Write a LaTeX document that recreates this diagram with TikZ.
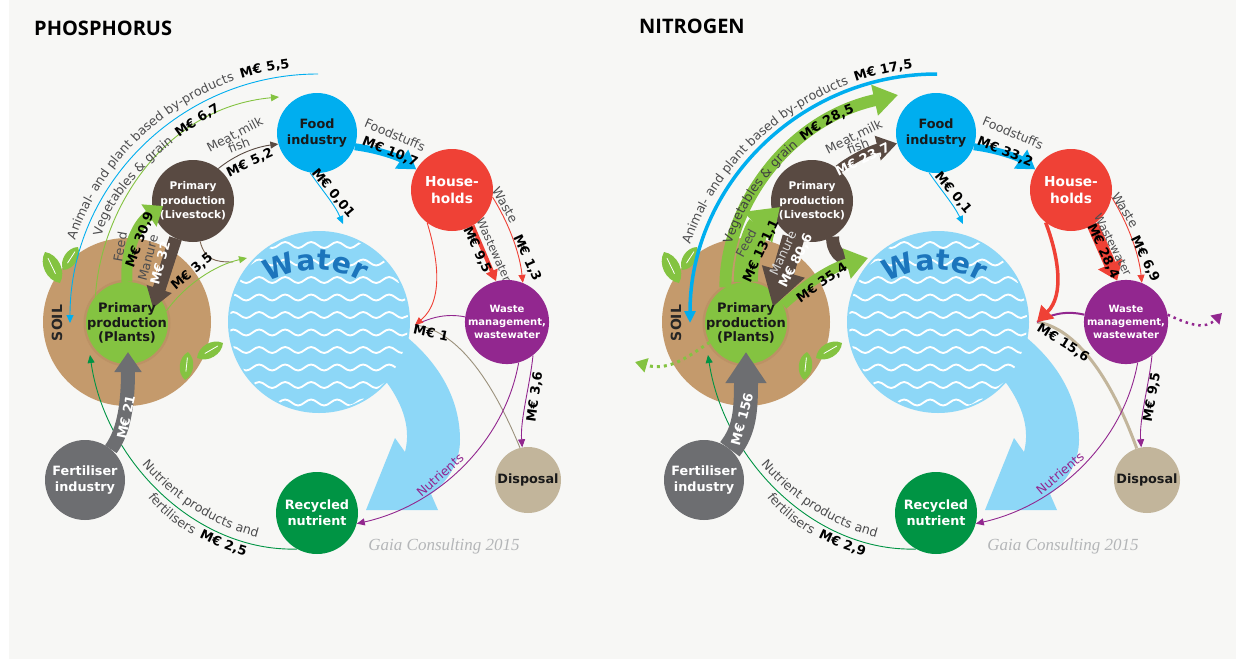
\documentclass[tikz,border=0pt]{standalone}
\usepackage{fontspec}
\setmainfont{DejaVu Sans}
\newfontfamily\titlefont{Open Sans}
\newfontfamily\gaiafont{Liberation Serif}
\usetikzlibrary{calc,arrows.meta,decorations.text,decorations.pathmorphing}
\definecolor{pagegrey}{HTML}{F7F7F5}
\definecolor{soilbrown}{HTML}{C49A6C}
\definecolor{soilshade}{HTML}{BC9265}
\definecolor{waterblue}{HTML}{8DD7F7}
\definecolor{waterword}{HTML}{1C75BC}
\definecolor{foodblue}{HTML}{00AEEF}
\definecolor{househred}{HTML}{EF4136}
\definecolor{wastepurple}{HTML}{92278F}
\definecolor{disposaltan}{HTML}{C2B59B}
\definecolor{recycledgreen}{HTML}{009444}
\definecolor{fertgrey}{HTML}{6D6E71}
\definecolor{livebrown}{HTML}{594A42}
\definecolor{plantgreen}{HTML}{84C341}
\definecolor{labelgrey}{HTML}{4D4D4F}
\definecolor{gaiagrey}{HTML}{B4B6B8}
\def\lblfont{\fontsize{12.6}{12.6}\selectfont\color{labelgrey}}
\def\darkfont{\fontsize{12.6}{12.6}\selectfont\color{black!75}}
\def\valfont{\fontsize{13}{13}\selectfont\bfseries\color{black}}
\def\curvelabel(#1)(#2)(#3)(#4)#5{\path[decorate,decoration={text along path,text align=center,text={#5}}] (#1) .. controls (#2) and (#3) .. (#4);}
\def\leaf(#1)(#2){\fill[plantgreen] (#1) to[bend left=55] (#2) to[bend left=55] (#1); \draw[white,line width=0.8] ($(#1)!.3!(#2)$) -- ($(#1)!.8!(#2)$);}
\tikzset{
	hub/.style={circle,inner sep=0pt,align=center,minimum size=#1},
	bighub/.style={font=\fontsize{12.8}{16}\selectfont\bfseries},
	midhub/.style={align=center,font=\fontsize{13}{14.5}\selectfont\bfseries},
	smallhub/.style={font=\fontsize{10}{12.6}\selectfont\bfseries},
	val/.style={font=\fontsize{13}{13}\selectfont\bfseries,inner sep=0pt},
	lbl/.style={font=\fontsize{12.5}{12.5}\selectfont,text=labelgrey,inner sep=0pt},
	wave/.style={white,line width=1.9,decorate,decoration={snake,segment length=26pt,amplitude=3pt}},
	thinflow/.style={line width=0.9,-{Triangle[length=8pt,width=7pt]}}
}
\begin{document}
\begin{tikzpicture}[x=1pt,y=-1pt]
	\useasboundingbox (0,0) rectangle (1236,659);
	\fill[white] (0,0) rectangle (1236,659);
	\fill[pagegrey] (9,0) rectangle (1236,659);

	\node (P-title) [anchor=west,inner sep=0pt,font=\titlefont\fontsize{20}{20}\selectfont\bfseries] at (34,28) {PHOSPHORUS};
	\node (N-title) [anchor=west,inner sep=0pt,font=\titlefont\fontsize{20}{20}\selectfont\bfseries] at (639,26) {NITROGEN};

	%%%%% shared by both panels %%%%%
	\foreach \p/\dx in {P/0,N/619}{
	\begin{scope}[shift={(\dx,0)}]
		\node (\p-soil) [hub=168,fill=soilbrown] at (127,322) {};
		\fill[soilshade] (127,323) circle (43.5);
		\node (\p-water) [hub=182,fill=waterblue] at (319,322) {};
		\fill[waterblue] (408,338) .. controls (440,365) and (460,400) .. (460,440) .. controls (460,460) and (450,480) .. (431,494) -- (438,510) -- (366,510) -- (395,438) -- (405,452) .. controls (412,425) and (400,400) .. (385,380) -- cycle;
		\begin{scope}
			\clip (319,322) circle (89);
			\foreach \wy in {245,262.5,...,403}
				\draw[wave] (225,\wy) -- (415,\wy);
		\end{scope}
		\curvelabel(264,285)(295,266)(335,264)(366,285){|\fontsize{28.5}{28.5}\selectfont\bfseries\color{waterword}|Water}
		\node (\p-plants) [hub=82,fill=plantgreen] at (127,323) {};
		\node (\p-live) [hub=82,fill=livebrown,text=white,font=\fontsize{10.6}{14.5}\selectfont\bfseries] at (193,201) {Primary\\production\\(Livestock)};
		\node (\p-food) [hub=80,fill=foodblue,bighub,text=black!90] at (317,133) {Food\\industry};
		\node (\p-house) [hub=82,fill=househred,text=white,font=\fontsize{13.7}{16.5}\selectfont\bfseries] at (452,190) {House-\\holds};
		\node (\p-waste) [hub=82,fill=wastepurple,text=white,smallhub] at (507,322) {Waste\\management,\\wastewater};
		\node (\p-disposal) [hub=66,fill=disposaltan,bighub,text=black!90] at (528,480) {Disposal};
		\node (\p-rec) [hub=82,fill=recycledgreen,text=white,bighub] at (317,513) {Recycled\\nutrient};
		\node (\p-fert) [hub=80,fill=fertgrey,text=white,bighub] at (85,480) {Fertiliser\\industry};
		\node (\p-soiltext) [font=\fontsize{14}{14}\selectfont\bfseries,text=black!85,rotate=90,inner sep=0pt] at (57,323) {SOIL};
		\leaf(60,283)(45,252)
		\leaf(63,270)(78,247)
		\leaf(185,380)(188,352)
		\leaf(197,358)(223,343)
		\node (\p-gaia) [font=\gaiafont\itshape\fontsize{17}{17}\selectfont,text=gaiagrey,inner sep=0pt] at (444,546) {Gaia Consulting 2015};
	\end{scope}
	}

	%%%%% PHOSPHORUS %%%%%
	\coordinate (P-byprod) at (318,74);
	\coordinate (P-soilin) at (70,323);
	\coordinate (P-feedtip) at (163,206);
	\coordinate (P-manuretip) at (153,308);
	\coordinate (P-watertip) at (247,258);
	\coordinate (P-waterjoin) at (233,262);
	\coordinate (P-watertip2) at (343,224);
	\coordinate (P-sink) at (415,325);
	\coordinate (P-ferttip) at (128,352);
	\coordinate (P-recin) at (90,355);
	\coordinate (P-vegtip) at (279,97);

	\draw[thinflow,foodblue] (P-byprod) .. controls (180,74) and (70,186) .. (P-soilin);
	\draw[thinflow,plantgreen] (P-plants.140) .. controls (100,215) and (160,108) .. (P-vegtip);
	\draw[plantgreen,line width=11,-{Triangle[length=17pt,width=26pt]}] (P-plants.90) .. controls (125,255) and (135,225) .. (P-feedtip);
	\draw[livebrown,line width=13,-{Triangle[length=20pt,width=25pt]}] (P-live.245) -- (P-manuretip);
	\draw[line width=0.9,livebrown!70!soilbrown] (P-live.-80) .. controls (205,260) and (215,262) .. (P-waterjoin);
	\draw[thinflow,plantgreen] (P-plants.17) .. controls (185,285) and (215,265) .. (P-watertip);
	\draw[thinflow,livebrown] (P-live.52) .. controls (235,155) and (255,147) .. (P-food.196);
	\draw[foodblue,line width=7,-{Triangle[length=18pt,width=22pt]}] (P-food.-20) .. controls (380,150) and (400,158) .. (P-house.150);
	\draw[thinflow,foodblue] (P-food.-100) .. controls (322,190) and (335,205) .. (P-watertip2);
	\draw[househred,line width=4,-{Triangle[length=11pt,width=12pt]}] (P-house.-60) -- (P-waste.105);
	\draw[thinflow,househred] (P-house.-10) .. controls (510,225) and (520,255) .. (P-waste.68);
	\draw[line width=0.9,disposaltan!80!black] (P-disposal.104) .. controls (490,375) and (455,330) .. (P-sink);
	\draw[line width=0.9,wastepurple] (P-waste.173) .. controls (445,313) and (430,318) .. (P-sink);
	\draw[thinflow,househred] (P-house.233) .. controls (437,255) and (445,300) .. (P-sink);
	\draw[thinflow,wastepurple] (P-waste.-52) .. controls (530,385) and (520,420) .. (P-disposal.100);
	\draw[thinflow,wastepurple] (P-waste.-74) .. controls (505,440) and (440,505) .. (P-rec.-15);
	\draw[thinflow,recycledgreen] (P-rec.241) .. controls (195,552) and (105,460) .. (P-recin);
	\draw[fertgrey,line width=14,-{Triangle[length=20pt,width=26pt]}] (P-fert.50) .. controls (125,430) and (128,400) .. (P-ferttip);
	\node (P-plantstext) [midhub,text=black!90] at (P-plants) {Primary\\production\\(Plants)};

	\curvelabel(72,250)(102,148)(194,75)(300,67){|\lblfont|Animal- and plant based by-products || |\valfont|M€ 5,5}
	\curvelabel(102,242)(100,210)(152,148)(225,108){|\lblfont|Vegetables {\&} grain || |\valfont|M€ 6,7}
	\curvelabel(137,458)(170,500)(215,528)(265,539){|\lblfont|Nutrient products and}
	\curvelabel(145,493)(165,523)(205,545)(250,557){|\lblfont|fertilisers || |\valfont|M€ 2,5}
	\node (P-feedlbl) [lbl,rotate=80] at (120,247) {Feed};
	\node (P-feedval) [val,rotate=70] at (140,240) {M€ 30,9};
	\node (P-manurelbl) [lbl,rotate=75] at (148,258) {Manure};
	\node (P-manureval) [val,rotate=75,text=white] at (160,263) {M€ 32};
	\node (P-waterval) [val,rotate=40] at (192,272) {M€ 3,5};
	\node (P-meatlbl) [lbl,rotate=28] at (235,135) {Meat,milk};
	\node (P-fishlbl) [lbl,rotate=22] at (239,145) {fish};
	\node (P-meatval) [val,rotate=25] at (250,163) {M€ 5,2};
	\node (P-foodlbl) [lbl,rotate=-23] at (395,135) {Foodstuffs};
	\node (P-foodval) [val,rotate=-22] at (390,152) {M€ 10,7};
	\node (P-food2val) [val,rotate=-50] at (333,193) {M€ 0,01};
	\node (P-wastewlbl) [lbl,rotate=-66,font=\fontsize{11.5}{11.5}\selectfont] at (494,250) {Wastewater};
	\node (P-wastewval) [val,rotate=-65] at (477,250) {M€ 9,5};
	\node (P-wastelbl) [lbl,rotate=-60] at (505,205) {Waste};
	\node (P-wasteval) [val,rotate=-65] at (527,258) {M€ 1,3};
	\node (P-sinkval) [val,rotate=-12] at (431,333) {M€ 1};
	\node (P-dispval) [val,rotate=82] at (535,397) {M€ 3,6};
	\node (P-nutlbl) [lbl,rotate=42,text=wastepurple] at (440,475) {Nutrients};
	\node (P-fertval) [val,rotate=78,text=white] at (126,417) {M€ 21};

	%%%%% NITROGEN %%%%%
	\coordinate (N-byprod) at (937,74);
	\coordinate (N-soilin) at (690,323);
	\coordinate (N-feedtip) at (780,207);
	\coordinate (N-manuretip) at (773,307);
	\coordinate (N-watertip) at (868,258);
	\coordinate (N-waterjoin) at (855,262);
	\coordinate (N-watertip2) at (963,224);
	\coordinate (N-sink) at (1037,322);
	\coordinate (N-ferttip) at (746,352);
	\coordinate (N-recin) at (708,355);
	\coordinate (N-vegtip) at (898,95);
	\coordinate (N-outright) at (1222,313);
	\coordinate (N-outleft) at (635,362);

	\draw[foodblue,line width=3.5,-{Triangle[length=12pt,width=11pt]}] (N-byprod) .. controls (799,74) and (690,186) .. (N-soilin);
	\draw[plantgreen,line width=12,-{Triangle[length=24pt,width=30pt]}] (N-plants.120) .. controls (725,210) and (785,120) .. (N-vegtip);
	\draw[plantgreen,line width=24,-{Triangle[length=30pt,width=40pt]}] (N-plants.90) .. controls (745,260) and (755,230) .. (N-feedtip);
	\draw[livebrown,line width=22,-{Triangle[length=37pt,width=42pt]}] (N-live.243) -- (N-manuretip);
	\draw[livebrown,line width=13] (N-live.-60) .. controls (832,250) and (840,260) .. (N-waterjoin);
	\draw[plantgreen,line width=10,-{Triangle[length=22pt,width=30pt]}] (N-plants.26) .. controls (805,285) and (830,268) .. (N-watertip);
	\draw[livebrown,line width=9,-{Triangle[length=20pt,width=24pt]}] (N-live.50) .. controls (850,160) and (870,150) .. (N-food.195);
	\draw[foodblue,line width=7,-{Triangle[length=18pt,width=22pt]}] (N-food.-20) .. controls (999,150) and (1019,158) .. (N-house.150);
	\draw[thinflow,foodblue] (N-food.-100) .. controls (941,190) and (954,205) .. (N-watertip2);
	\draw[househred,line width=12,-{Triangle[length=18pt,width=25pt]}] (N-house.-58) -- (N-waste.102);
	\draw[thinflow,househred] (N-house.-10) .. controls (1129,225) and (1139,255) .. (N-waste.68);
	\draw[line width=3,disposaltan] (N-disposal.108) .. controls (1110,375) and (1075,328) .. (N-sink);
	\draw[line width=2,wastepurple] (N-waste.170) .. controls (1064,310) and (1050,315) .. (N-sink);
	\draw[househred,line width=3.5,-{Triangle[length=15pt,width=18pt]}] (N-house.232) .. controls (1058,255) and (1065,295) .. (N-sink);
	\draw[thinflow,wastepurple] (N-waste.-52) .. controls (1149,385) and (1139,420) .. (N-disposal.100);
	\draw[thinflow,wastepurple] (N-waste.-74) .. controls (1124,440) and (1059,505) .. (N-rec.-15);
	\draw[thinflow,recycledgreen] (N-rec.241) .. controls (814,552) and (724,460) .. (N-recin);
	\draw[fertgrey,line width=24,-{Triangle[length=31pt,width=39pt]}] (N-fert.50) .. controls (745,430) and (746,410) .. (N-ferttip);
	\draw[wastepurple,line width=2.5,dash pattern=on 2.5pt off 4pt,-{Triangle[length=10pt,width=12pt]}] (N-waste.10) .. controls (1190,325) and (1205,330) .. (N-outright);
	\draw[plantgreen,line width=3,dash pattern=on 3pt off 4pt,-{Triangle[length=12pt,width=14pt]}] (N-plants.208) .. controls (690,355) and (670,372) .. (N-outleft);
	\node (N-plantstext) [midhub,text=black!90] at (N-plants) {Primary\\production\\(Plants)};

	\curvelabel(687,255)(715,153)(817,74)(923,68){|\lblfont|Animal- and plant based by-products || |\valfont|M€ 17,5}
	\curvelabel(730,250)(745,190)(800,130)(860,111){|\darkfont|Vegetables {\&} grain || |\valfont|M€ 28,5}
	\curvelabel(756,458)(789,500)(834,528)(884,539){|\lblfont|Nutrient products and}
	\curvelabel(764,493)(784,523)(824,545)(869,557){|\lblfont|fertilisers || |\valfont|M€ 2,9}
	\node (N-feedlbl) [lbl,rotate=62] at (746,243) {Feed};
	\node (N-feedval) [val,rotate=65] at (761,251) {M€ 131,1};
	\node (N-manurelbl) [lbl,rotate=65,text=white!85!black] at (783,253) {Manure};
	\node (N-manureval) [val,rotate=63,text=white] at (796,261) {M€ 80,6};
	\node (N-waterval) [val,rotate=35] at (822,283) {M€ 35,4};
	\node (N-meatlbl) [lbl,rotate=26] at (854,137) {Meat,milk};
	\node (N-fishlbl) [lbl,rotate=22] at (858,146) {fish};
	\node (N-meatval) [val,rotate=26,text=white] at (863,160) {M€ 23,7};
	\node (N-foodlbl) [lbl,rotate=-23] at (1013,133) {Foodstuffs};
	\node (N-foodval) [val,rotate=-22] at (1005,152) {M€ 33,2};
	\node (N-food2val) [val,rotate=-50] at (953,193) {M€ 0,1};
	\node (N-wastewlbl) [lbl,rotate=-63,font=\fontsize{11.5}{11.5}\selectfont] at (1113,245) {Wastewater};
	\node (N-wastewval) [val,rotate=-65] at (1103,251) {M€ 28,4};
	\node (N-wastelbl) [lbl,rotate=-58] at (1125,210) {Waste};
	\node (N-wasteval) [val,rotate=-64] at (1145,259) {M€ 6,9};
	\node (N-sinkval) [val,rotate=-32] at (1063,343) {M€ 15,6};
	\node (N-dispval) [val,rotate=80] at (1152,397) {M€ 9,5};
	\node (N-nutlbl) [lbl,rotate=40,text=wastepurple] at (1060,473) {Nutrients};
	\node (N-fertval) [val,rotate=75,text=white] at (742,419) {M€ 156};
\end{tikzpicture}
\end{document}
